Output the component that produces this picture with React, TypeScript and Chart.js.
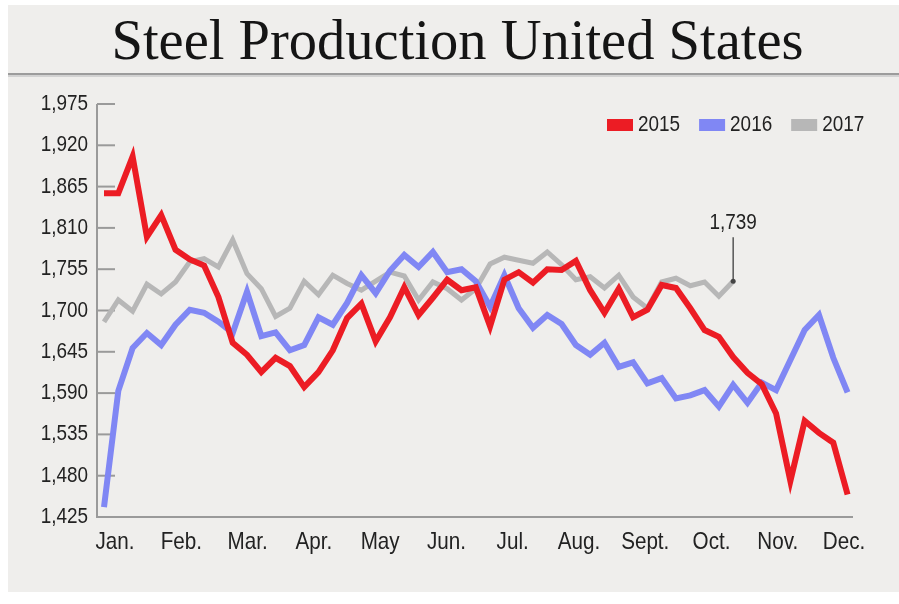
import React, { useEffect, useRef } from "react";
import { Chart, registerables } from "chart.js";

Chart.register(...registerables);

const TITLE = "Steel Production United States";
const SERIES_LABELS = ["2015", "2016", "2017"];
const SERIES_COLORS = ["#ec1c24", "#8087f4", "#b7b7b7"];
const MONTH_LABELS = ["Jan.", "Feb.", "Mar.", "Apr.", "May", "Jun.", "Jul.", "Aug.", "Sept.", "Oct.", "Nov.", "Dec."];
const Y_TICKS = [1425, 1480, 1535, 1590, 1645, 1700, 1755, 1810, 1865, 1920, 1975];
const ANNOTATION_LABEL = "1,739";

// weekly values (week index = position in array)
const PROD_2015 = [
  1856, 1856, 1905, 1798, 1827, 1781, 1768, 1760, 1718, 1657, 1641, 1618, 1637, 1626,
  1598, 1618, 1647, 1690, 1709, 1659, 1691, 1731, 1694, 1717, 1741, 1727, 1731, 1679,
  1741, 1751, 1737, 1755, 1754, 1766, 1727, 1697, 1729, 1691, 1701, 1734, 1730, 1703,
  1674, 1665, 1638, 1617, 1602, 1563, 1473, 1553, 1537, 1524, 1455,
];
const PROD_2016 = [
  1438, 1593, 1650, 1670, 1654, 1681, 1701, 1697, 1685, 1670, 1725, 1666, 1671, 1647,
  1654, 1691, 1681, 1710, 1747, 1723, 1753, 1774, 1758, 1778, 1751, 1755, 1739, 1705,
  1747, 1703, 1677, 1694, 1682, 1654, 1641, 1657, 1625, 1631, 1603, 1610, 1583, 1587,
  1594, 1572, 1601, 1577, 1604, 1594, 1634, 1674, 1694, 1637, 1591,
];
const PROD_2017 = [
  1685, 1714, 1699, 1735, 1722, 1738, 1765, 1769, 1758, 1794, 1749, 1729, 1692, 1703,
  1739, 1721, 1747, 1736, 1727, 1739, 1751, 1746, 1714, 1738, 1729, 1714, 1729, 1762,
  1771, 1767, 1763, 1778, 1761, 1741, 1745, 1730, 1747, 1718, 1703, 1738, 1743, 1733,
  1738, 1719, 1739,
];

const FIRST_MONTH_WEEK = 0.77;
const WEEKS_PER_MONTH = 4.635;

const AXIS_COLOR = "#9a9a9a";
const TEXT_COLOR = "#222222";
const SANS = '"Liberation Sans", Arial, sans-serif';
const SQUEEZE = 0.86; // horizontal condensing to mimic a narrow face

function narrowText(ctx: CanvasRenderingContext2D, text: string, x: number, y: number, align: CanvasTextAlign, size: number) {
  ctx.save();
  ctx.font = `${size}px ${SANS}`;
  ctx.textAlign = align;
  ctx.textBaseline = "middle";
  ctx.translate(x, y);
  ctx.scale(SQUEEZE, 1);
  ctx.fillText(text, 0, 0);
  ctx.restore();
}

const decorPlugin = {
  id: "decor",
  beforeDatasetsDraw(chart: any) {
    const { ctx, chartArea: a, scales } = chart;
    ctx.save();
    ctx.strokeStyle = AXIS_COLOR;
    ctx.lineWidth = 2;
    ctx.beginPath();
    ctx.moveTo(a.left, a.top);
    ctx.lineTo(a.left, a.bottom);
    ctx.lineTo(a.right, a.bottom);
    ctx.stroke();
    scales.y.ticks.forEach((t: any) => {
      const y = scales.y.getPixelForValue(t.value);
      ctx.beginPath();
      ctx.moveTo(a.left, y);
      ctx.lineTo(a.left + 18, y);
      ctx.stroke();
    });
    ctx.restore();
  },
  afterDraw(chart: any) {
    const { ctx, chartArea: a, scales } = chart;
    ctx.save();
    ctx.fillStyle = TEXT_COLOR;
    // y tick labels
    scales.y.ticks.forEach((t: any) => {
      const y = scales.y.getPixelForValue(t.value);
      narrowText(ctx, Number(t.value).toLocaleString("en-US"), a.left - 9, y, "right", 22);
    });
    // x tick labels
    scales.x.ticks.forEach((t: any, i: number) => {
      const x = scales.x.getPixelForValue(t.value);
      narrowText(ctx, MONTH_LABELS[i], x, a.bottom + 25, "center", 24);
    });
    // legend
    let x = a.right - 246;
    const ly = 48;
    SERIES_LABELS.forEach((lab, i) => {
      ctx.fillStyle = SERIES_COLORS[i];
      ctx.fillRect(x, ly - 6, 26, 12);
      ctx.fillStyle = TEXT_COLOR;
      narrowText(ctx, lab, x + 31, ly, "left", 22);
      ctx.font = `22px ${SANS}`;
      x += 31 + ctx.measureText(lab).width * SQUEEZE + 19;
    });
    // annotation on last 2017 point
    const meta = chart.getDatasetMeta(2);
    const last = meta.data[meta.data.length - 1];
    const px = last.x;
    const py = last.y;
    ctx.strokeStyle = "#555";
    ctx.lineWidth = 1.5;
    ctx.beginPath();
    ctx.moveTo(px, py - 44);
    ctx.lineTo(px, py);
    ctx.stroke();
    ctx.fillStyle = "#444";
    ctx.beginPath();
    ctx.arc(px, py, 2.5, 0, Math.PI * 2);
    ctx.fill();
    ctx.fillStyle = TEXT_COLOR;
    narrowText(ctx, ANNOTATION_LABEL, px, py - 58, "center", 22);
    ctx.restore();
  },
};

export default function App() {
  const ref = useRef<HTMLCanvasElement>(null);

  useEffect(() => {
    if (!ref.current) return;
    const toPoints = (arr: number[]) => arr.map((v, i) => ({ x: i, y: v }));
    const series = [PROD_2015, PROD_2016, PROD_2017];
    const chart = new Chart(ref.current, {
      type: "line",
      data: {
        datasets: series.map((s, i) => ({
          label: SERIES_LABELS[i],
          data: toPoints(s),
          borderColor: SERIES_COLORS[i],
          backgroundColor: SERIES_COLORS[i],
          borderWidth: i === 2 ? 5 : 6,
          pointRadius: 0,
          tension: 0,
          borderJoinStyle: "miter" as const,
          fill: false,
        })),
      },
      options: {
        animation: false,
        responsive: false,
        layout: { padding: { top: 27, right: 46, left: 0, bottom: 0 } },
        plugins: { legend: { display: false }, tooltip: { enabled: false }, title: { display: false } },
        scales: {
          x: {
            type: "linear",
            min: -0.49,
            max: 52.38,
            grid: { display: false, drawTicks: false },
            border: { display: false },
            afterBuildTicks: (scale: any) => {
              scale.ticks = MONTH_LABELS.map((_, m) => ({ value: FIRST_MONTH_WEEK + m * WEEKS_PER_MONTH }));
            },
            afterFit: (scale: any) => {
              scale.height = 75;
            },
            ticks: { display: false },
          },
          y: {
            min: 1425,
            max: 1975,
            grid: { display: false, drawTicks: false },
            border: { display: false },
            afterBuildTicks: (scale: any) => {
              scale.ticks = Y_TICKS.map((v) => ({ value: v }));
            },
            afterFit: (scale: any) => {
              scale.width = 89;
            },
            ticks: { display: false },
          },
        },
      },
      plugins: [decorPlugin],
    });
    return () => chart.destroy();
  }, []);

  return (
    <div style={{ position: "fixed", left: 0, top: 0, width: 899, height: 604, background: "#ffffff", overflow: "hidden" }}>
      <div style={{ position: "absolute", left: 8, top: 5, width: 891, height: 587, background: "#efeeec" }}>
        <div
          style={{
            position: "absolute",
            left: 8,
            top: 0,
            width: 883,
            height: 69,
            display: "flex",
            alignItems: "center",
            justifyContent: "center",
            fontFamily: '"Liberation Serif", serif',
            fontSize: 56.5,
            color: "#151515",
            whiteSpace: "nowrap",
          }}
        >
          {TITLE}
        </div>
        <div style={{ position: "absolute", left: 0, top: 68, width: 891, height: 2, background: "#9c9c9c" }} />
        <div style={{ position: "absolute", left: 0, top: 70, width: 891, height: 2, background: "#d2d2d2" }} />
        <canvas ref={ref} width={891} height={515} style={{ position: "absolute", left: 0, top: 72 }} />
      </div>
    </div>
  );
}
